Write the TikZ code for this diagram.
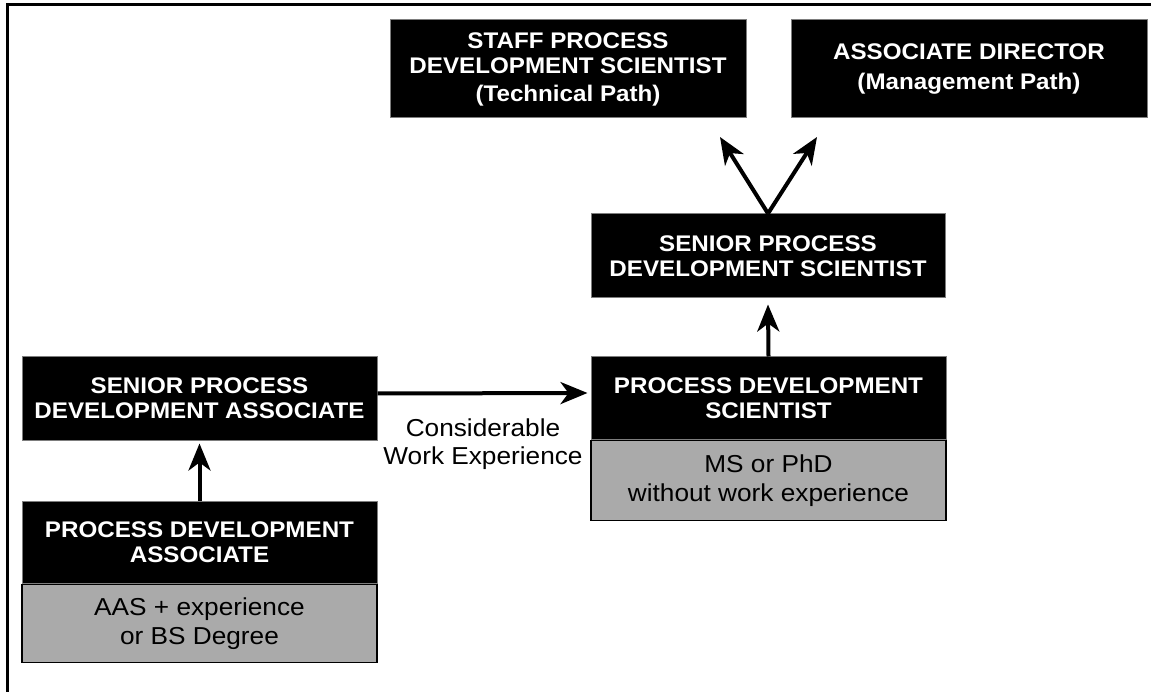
\documentclass[tikz,border=0pt]{standalone}
\usepackage{fontspec}
\setmainfont{Liberation Sans}[FakeStretch=1.07]
\usetikzlibrary{arrows.meta}
\definecolor{boxgray}{RGB}{170,170,170}
\definecolor{edgegray}{RGB}{125,125,125}
\begin{document}
\begin{tikzpicture}[x=1pt,y=-1pt,
  title/.style={rectangle, fill=black, draw=edgegray, line width=1pt, text=white,
    font=\fontsize{22.6}{25}\selectfont\bfseries, align=center, inner sep=0pt},
  info/.style={rectangle, fill=boxgray, draw=black, line width=1.5pt, text=black,
    font=\fontsize{24.5}{29}\selectfont, align=center, inner sep=0pt},
  arr/.style={line width=4pt, -{Stealth[length=27pt,width=22pt,inset=8pt]}},
  lbl/.style={font=\fontsize{24.5}{28}\selectfont, align=center, inner sep=0pt}
  ]
\useasboundingbox (0,0) rectangle (1151,692);
\draw[line width=3pt] (7,692) -- (7,5) -- (1151,5);

\node[title, minimum width=356pt, minimum height=98pt] (staff) at (568,69)
  {STAFF PROCESS\\DEVELOPMENT SCIENTIST\\[3pt](Technical Path)};
\node[title, minimum width=356pt, minimum height=98pt] (assoc) at (969,69)
  {ASSOCIATE DIRECTOR\\[5pt](Management Path)};
\node[title, minimum width=354pt, minimum height=84pt] (spds) at (768,256)
  {SENIOR PROCESS\\DEVELOPMENT SCIENTIST};
\node[title, minimum width=355pt, minimum height=82pt] (pds) at (768.5,398)
  {PROCESS DEVELOPMENT\\SCIENTIST};
\node[info, minimum width=355pt, minimum height=80pt, anchor=north] (pdsb) at (pds.south)
  {MS or PhD\\without work experience};
\node[title, minimum width=355pt, minimum height=83pt] (spda) at (199.5,398.5)
  {SENIOR PROCESS\\DEVELOPMENT ASSOCIATE};
\node[title, minimum width=355pt, minimum height=82pt] (pda) at (199.5,542)
  {PROCESS DEVELOPMENT\\ASSOCIATE};
\node[info, minimum width=355pt, minimum height=78pt, anchor=north] (pdab) at (pda.south)
  {AAS + experience\\or BS Degree};
\node[lbl] (lab) at (483,444) {Considerable\\Work Experience};

\coordinate (tl) at (720,137);
\coordinate (tr) at (817,137);

\draw[arr] (pda.north) -- ([yshift=-3pt]spda.south);
\draw[arr] ([yshift=5pt]spda.east) -- ([yshift=5pt,xshift=-3pt]pds.west);
\draw[arr] (pds.north) -- ([yshift=-6pt]spds.south);
\draw[arr] (spds.north) -- (tl);
\draw[arr] (spds.north) -- (tr);
\end{tikzpicture}
\end{document}
